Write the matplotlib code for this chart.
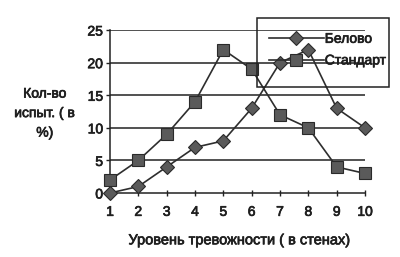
import matplotlib
matplotlib.use("Agg")
import matplotlib.pyplot as plt
import matplotlib.patheffects as pe
from matplotlib.patches import Rectangle

levels = [1, 2, 3, 4, 5, 6, 7, 8, 9, 10]
belovo = [0, 1, 4, 7, 8, 13, 20, 22, 13, 10]
standard = [2, 5, 9, 14, 22, 19, 12, 10, 4, 3]
y_ticks = [0, 5, 10, 15, 20, 25]

plt.rcParams['font.family'] = ['Liberation Sans', 'DejaVu Sans']

fig = plt.figure(figsize=(4.0, 2.57), dpi=100)
ax = fig.add_axes([0.275, 0.249, 0.6375, 0.634])

line_col = '#2e2e2e'
face_col = '#5a5a5a'
text_col = '#1e1e1e'
heavy = [pe.withStroke(linewidth=0.5, foreground=text_col)]

ax.plot(levels, belovo, color=line_col, lw=1.2, marker='D', markersize=7,
        markerfacecolor=face_col, markeredgecolor='#2a2a2a', markeredgewidth=0.8,
        clip_on=False, zorder=3, label='Белово')
ax.plot(levels, standard, color=line_col, lw=1.2, marker='s', markersize=9,
        markerfacecolor=face_col, markeredgecolor='#2a2a2a', markeredgewidth=0.8,
        clip_on=False, zorder=3, label='Стандарт')

ax.set_xlim(1, 10)
ax.set_ylim(0, 25)
ax.set_xticks(levels)
ax.set_yticks(y_ticks)
for y in y_ticks[1:]:
    ax.axhline(y, color='#333333', lw=1.2, zorder=1)

for side in ['top', 'right']:
    ax.spines[side].set_visible(False)
for side in ['left', 'bottom']:
    ax.spines[side].set_color('#222222')
    ax.spines[side].set_linewidth(1.1)

ax.tick_params(axis='x', direction='inout', length=5, width=1, colors='#222222',
               labelsize=10, pad=6, labelcolor=text_col)
ax.tick_params(axis='y', direction='out', length=3, width=1, colors='#222222',
               labelsize=10, pad=2, labelcolor=text_col)
for lbl in ax.get_xticklabels() + ax.get_yticklabels():
    lbl.set_path_effects(heavy)

fig.text(0.6, 0.065, 'Уровень тревожности ( в стенах)', ha='center', va='center',
         fontsize=10.5, color=text_col, path_effects=heavy)
fig.text(0.112, 0.56, 'Кол-во\nиспыт. ( в\n%)', ha='center', va='center',
         fontsize=10, color=text_col, linespacing=1.5, multialignment='center',
         path_effects=heavy)

# legend frame drawn separately, entries placed inside it
fig.patches.append(Rectangle((0.643, 0.661), 0.33, 0.268, transform=fig.transFigure,
                             fill=False, edgecolor='#222222', lw=1.1))
leg = fig.legend(loc='upper left', bbox_to_anchor=(0.64, 0.925), frameon=False,
                 fontsize=10, handlelength=4.0, borderpad=0.4, labelspacing=0.55,
                 handletextpad=0.05)
for t in leg.get_texts():
    t.set_color(text_col)
    t.set_path_effects(heavy)

fig.savefig('out.png', dpi=100)
